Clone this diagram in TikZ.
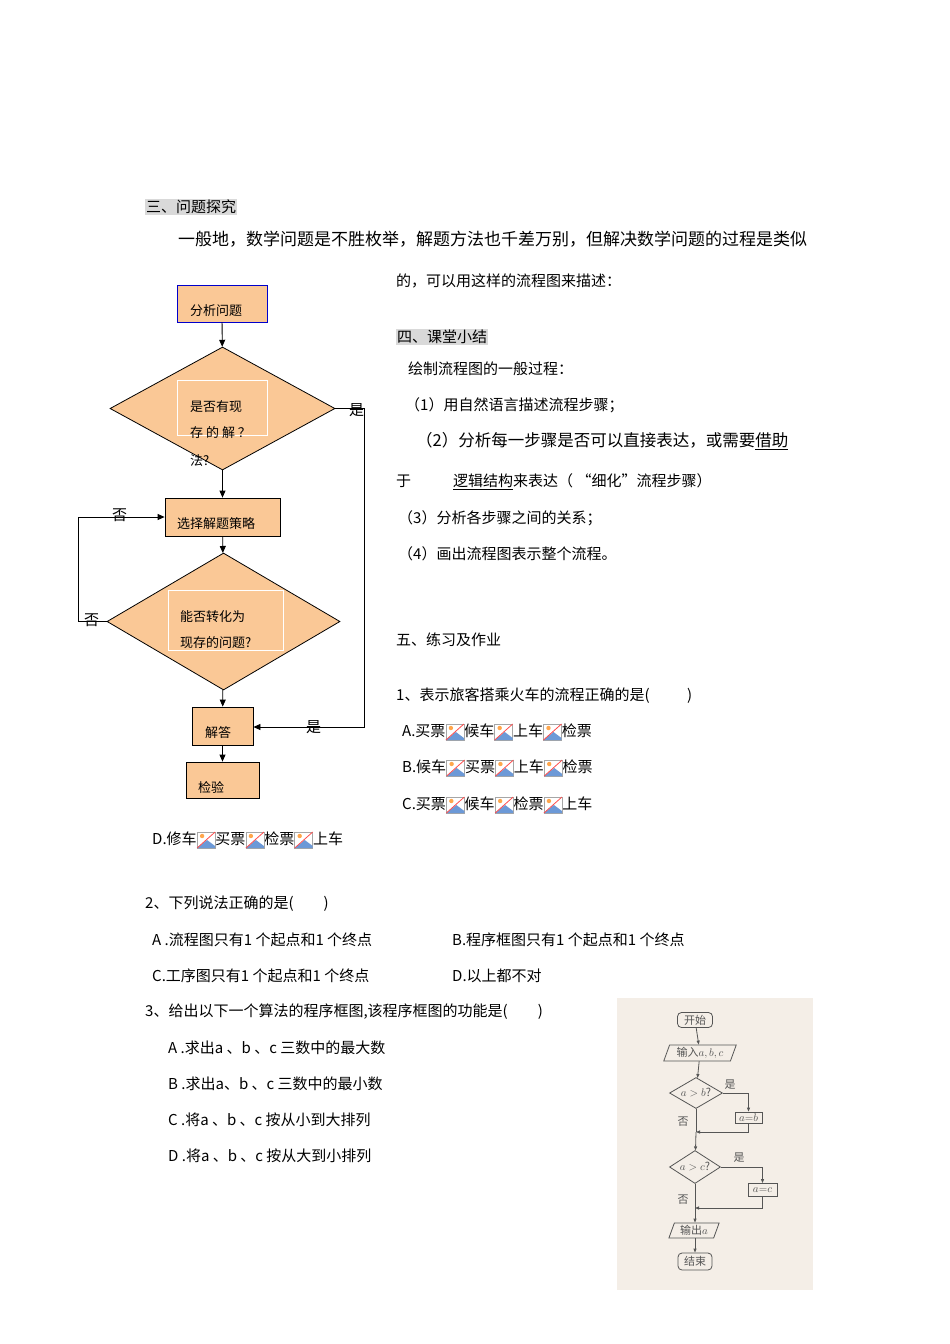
\documentclass[tikz,border=0pt]{standalone}
\usepackage{fontspec}
\setmainfont{Noto Sans CJK SC}
\usetikzlibrary{shapes.geometric,arrows.meta}
\definecolor{peach}{HTML}{FAC896}
\definecolor{hl}{HTML}{D9D9D9}
\definecolor{photo}{HTML}{F4EEE7}
\definecolor{ink}{HTML}{555555}
\newcommand{\imgic}{\raisebox{-4pt}{\tikz[x=1pt,y=1pt]{\draw[gray!70,fill=white] (0,0) rectangle (18,16);\fill[cyan!50!blue!60] (0,0)--(10,8)--(18,2)--(18,0)--cycle;\fill[orange!70] (5,12) circle (2.2);\draw[red!70,thick] (0,0)--(18,16);}}}
\begin{document}
\begin{tikzpicture}[x=1pt,y=-1pt,
  txt/.style={anchor=west,inner sep=0pt,font=\fontsize{15}{17}\selectfont},
  fbox/.style={fill=peach,thick,inner sep=0pt},
  ftxt/.style={anchor=west,inner sep=0pt,font=\fontsize{13}{15}\selectfont},
  arr/.style={-{Triangle[length=7pt,width=6pt]},thick},
  sm/.style={draw=ink,thick,inner sep=1pt,font=\fontsize{11}{12}\selectfont,text=ink},
  sarr/.style={-{Triangle[length=4pt,width=3pt]},draw=ink,thick}]
\useasboundingbox (0,0) rectangle (950,1344);
\fill[white] (0,0) rectangle (950,1344);
% text
\node[txt,fill=hl,inner sep=1pt] (h3) at (145,207) {三、问题探究};
\node[txt,font=\fontsize{17}{19}\selectfont] (p1) at (178,239) {一般地，数学问题是不胜枚举，解题方法也千差万别，但解决数学问题的过程是类似};
\node[txt] (p2) at (396,281) {的，可以用这样的流程图来描述：};
\node[txt,fill=hl,inner sep=1pt] (h4) at (396,337) {四、课堂小结};
\node[txt] (s0) at (408,369) {绘制流程图的一般过程：};
\node[txt] (s1) at (405,405) {（1）用自然语言描述流程步骤；};
\node[txt,font=\fontsize{16.5}{18}\selectfont] (s2) at (416,441) {（2）分析每一步骤是否可以直接表达，或需要\underline{借助}};
\node[txt] (s2b) at (396,482) {于\hspace{42pt}\underline{逻辑结构}来表达（ “细化”流程步骤）};
\node[txt] (s3) at (398,518) {（3）分析各步骤之间的关系；};
\node[txt] (s4) at (398,554) {（4）画出流程图表示整个流程。};
\node[txt] (h5) at (396,640) {五、练习及作业};
\node[txt] (q1) at (396,696) {1、表示旅客搭乘火车的流程正确的是(\hspace{2.5em})};
\node[txt] (q1a) at (402,732) {A.买票\imgic 候车\imgic 上车\imgic 检票};
\node[txt] (q1b) at (402,768) {B.候车\imgic 买票\imgic 上车\imgic 检票};
\node[txt] (q1c) at (402,805) {C.买票\imgic 候车\imgic 检票\imgic 上车};
\node[txt] (q1d) at (152,840) {D.修车\imgic 买票\imgic 检票\imgic 上车};
\node[txt] (q2) at (145,904) {2、下列说法正确的是(\hspace{2em})};
\node[txt] (q2a) at (152,940) {A .流程图只有1 个起点和1 个终点};
\node[txt] (q2b) at (452,940) {B.程序框图只有1 个起点和1 个终点};
\node[txt] (q2c) at (152,976) {C.工序图只有1 个起点和1 个终点};
\node[txt] (q2d) at (452,976) {D.以上都不对};
\node[txt] (q3) at (145,1012) {3、给出以下一个算法的程序框图,该程序框图的功能是(\hspace{2em})};
\node[txt] (q3a) at (168,1048) {A .求出a 、b 、c 三数中的最大数};
\node[txt] (q3b) at (168,1084) {B .求出a、b 、c 三数中的最小数};
\node[txt] (q3c) at (168,1120) {C .将a 、b 、c 按从小到大排列};
\node[txt] (q3d) at (168,1156) {D .将a 、b 、c 按从大到小排列};
% main flowchart
\node[fbox,draw=blue!80!black,minimum width=90pt,minimum height=37pt] (n1) at (222,303.5) {};
\node[ftxt] at (190,311) {分析问题};
\node[fbox,draw,diamond,aspect=1.83,minimum width=225pt,minimum height=123pt,inner sep=0pt] (d1) at (222.5,408.5) {};
\draw[white] (177,380) rectangle (267,435);
\node[ftxt] at (190,407) {是否有现};
\node[ftxt] at (190,433) {存 的 解 ？};
\node[ftxt] at (190,461) {法?};
\node[fbox,draw,minimum width=115pt,minimum height=38pt] (n2) at (222.5,517) {};
\node[ftxt] at (177,524) {选择解题策略};
\node[fbox,draw,diamond,aspect=1.7,minimum width=233pt,minimum height=137pt,inner sep=0pt] (d2) at (223.5,621.5) {};
\draw[white] (168,590) rectangle (283,650);
\node[ftxt] at (180,617) {能否转化为};
\node[ftxt] at (180,643) {现存的问题?};
\node[fbox,draw,minimum width=61pt,minimum height=38pt] (n3) at (222.5,726) {};
\node[ftxt] at (205,733) {解答};
\node[fbox,draw,minimum width=73pt,minimum height=36pt] (n4) at (222.5,780) {};
\node[ftxt] at (198,787) {检验};
\draw[arr] (n1) -- (d1);
\draw[arr] (d1) -- (n2);
\draw[arr] (n2) -- (d2);
\draw[arr] (d2) -- (n3);
\draw[arr] (n3) -- (n4);
\coordinate (r1) at (364,408.5); \coordinate (r2) at (364,727);
\draw[arr] (d1.east) -- (r1) -- (r2) -- (n3.east |- r2);
\coordinate (l1) at (78,621.5); \coordinate (l2) at (78,517);
\draw[arr] (d2.west) -- (l1) -- (l2) -- (n2.west);
\node[ftxt,font=\fontsize{15}{17}\selectfont] at (349,410) {是};
\node[ftxt,font=\fontsize{15}{17}\selectfont] at (306,727) {是};
\node[ftxt,font=\fontsize{15}{17}\selectfont] at (112,515) {否};
\node[ftxt,font=\fontsize{15}{17}\selectfont] at (84,620) {否};
% photo flowchart
\fill[photo] (617,998) rectangle (813,1290);
\node[sm,rounded corners=4pt,minimum width=35pt,minimum height=15pt] (a1) at (695,1020) {开始};
\node[sm,trapezium,trapezium left angle=70,trapezium right angle=110,minimum height=16pt,inner xsep=2pt] (a2) at (700,1053) {输入$a,b,c$};
\node[sm,diamond,aspect=1.7,minimum width=53pt,minimum height=31pt,inner sep=0pt] (a3) at (696,1093) {$a>b$?};
\node[sm,minimum width=27pt,minimum height=11pt,inner sep=0pt] (a4) at (748.5,1117.5) {$a{=}b$};
\coordinate (m1) at (696,1132);
\node[sm,diamond,aspect=1.7,minimum width=51pt,minimum height=33pt,inner sep=0pt] (a5) at (695,1167) {$a>c$?};
\node[sm,minimum width=29pt,minimum height=13pt,inner sep=0pt] (a6) at (762.5,1190) {$a{=}c$};
\coordinate (m2) at (695,1208);
\node[sm,trapezium,trapezium left angle=70,trapezium right angle=110,minimum height=15pt,inner xsep=2pt] (a7) at (694,1230.5) {输出$a$};
\node[sm,rounded corners=4pt,minimum width=34pt,minimum height=17pt] (a8) at (695,1261.5) {结束};
\draw[sarr] (a1) -- (a2);
\draw[sarr] (a2) -- (a3);
\draw[sarr] (a3.east) -| (a4.north);
\draw[sarr] (a4.south) |- (m1);
\draw[thick,draw=ink] (a3.south) -- (m1);
\draw[sarr] (m1) -- (a5);
\draw[sarr] (a5.east) -| (a6.north);
\draw[sarr] (a6.south) |- (m2);
\draw[thick,draw=ink] (a5.south) -- (m2);
\draw[sarr] (m2) -- (a7.north -| m2);
\draw[sarr] (a7.south -| a8) -- (a8);
\node[text=ink,font=\fontsize{11}{12}\selectfont] at (730,1085) {是};
\node[text=ink,font=\fontsize{11}{12}\selectfont] at (683,1122) {否};
\node[text=ink,font=\fontsize{11}{12}\selectfont] at (739,1158) {是};
\node[text=ink,font=\fontsize{11}{12}\selectfont] at (683,1200) {否};
\end{tikzpicture}
\end{document}
